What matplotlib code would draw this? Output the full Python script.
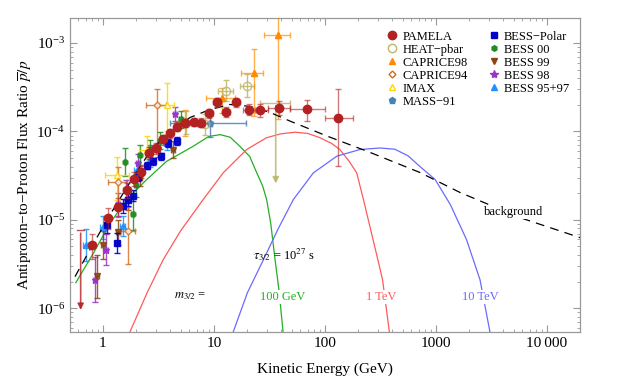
import numpy as np
import matplotlib
matplotlib.use('Agg')
import matplotlib.pyplot as plt
from matplotlib.lines import Line2D
from matplotlib.ticker import FixedLocator, FixedFormatter, LogLocator, NullFormatter

plt.rcParams['font.family'] = ['Liberation Serif', 'DejaVu Serif']
plt.rcParams['mathtext.fontset'] = 'stix'

# ---- data ----
# PAMELA
pam_E = [0.80, 1.12, 1.37, 1.64, 1.90, 2.20, 2.58, 3.02, 3.45, 4.01, 4.67, 5.53, 6.58, 7.67,
         9.07, 10.7, 12.9, 15.9, 20.5, 26.0, 38.7, 68.4, 130]
pam_r = [5.16e-6, 1.05e-5, 1.40e-5, 2.16e-5, 2.91e-5, 3.52e-5, 5.74e-5, 6.47e-5, 8.12e-5, 9.5e-5,
         1.13e-4, 1.25e-4, 1.28e-4, 1.26e-4, 1.60e-4, 2.13e-4, 1.65e-4, 2.15e-4, 1.77e-4, 1.74e-4,
         1.85e-4, 1.81e-4, 1.43e-4]
pam_rlo = [3.6e-6, 7.8e-6, 1.08e-5, 1.75e-5, 2.4e-5, 3.0e-5, 4.9e-5, 5.6e-5, 7.1e-5, 8.4e-5,
           1.0e-4, 1.12e-4, 1.14e-4, 1.12e-4, 1.42e-4, 1.9e-4, 1.45e-4, 1.9e-4, 1.52e-4, 1.45e-4,
           1.55e-4, 1.31e-4, 4.1e-5]
pam_rhi = [7.0e-6, 1.35e-5, 1.75e-5, 2.6e-5, 3.45e-5, 4.1e-5, 6.6e-5, 7.4e-5, 9.2e-5, 1.07e-4,
           1.27e-4, 1.39e-4, 1.43e-4, 1.41e-4, 1.8e-4, 2.38e-4, 1.87e-4, 2.42e-4, 2.05e-4, 2.05e-4,
           2.2e-4, 2.26e-4, 3.05e-4]
pam_Elo = [0.75, 1.05, 1.28, 1.53, 1.78, 2.05, 2.40, 2.82, 3.22, 3.74, 4.35, 5.15, 6.13, 7.15,
           8.45, 9.9, 11.9, 14.7, 18.3, 24.2, 30.8, 48.4, 100]
pam_Ehi = [0.85, 1.19, 1.46, 1.75, 2.03, 2.35, 2.76, 3.23, 3.69, 4.29, 4.99, 5.91, 7.03, 8.2,
           9.7, 11.5, 13.9, 17.1, 23.4, 30.4, 48.4, 100, 178]
pam_ul_E, pam_ul_r, pam_ul_end = 0.63, 7.6e-6, 8.9e-7

# HEAT-pbar
heat_E = [5.6, 8.3, 12.9, 20.0]
heat_r = [1.25e-4, 1.2e-4, 2.9e-4, 3.3e-4]
heat_err = [0.35, 0.3, 0.3, 0.35]
heat_ul_E, heat_ul_r, heat_ul_end = 36.0, 2.1e-4, 2.4e-5
heat_ul_Elo, heat_ul_Ehi = 26.0, 48.0

# CAPRICE98
c98_E = [5.5, 11.7, 23.0, 37.8]
c98_r = [1.3e-4, 2.4e-4, 4.6e-4, 1.22e-3]
c98_rlo = [9.0e-5, 1.6e-4, 1.5e-4, 1.4e-4]
c98_rhi = [1.75e-4, 3.1e-4, 8.5e-4, 2.5e-3]
c98_Elo = [4.8, 8.5, 17.5, 28.5]
c98_Ehi = [6.4, 15.5, 27.5, 48.5]

# CAPRICE94
c94_E = [1.37, 1.68, 3.04]
c94_r = [2.65e-5, 7.4e-6, 1.97e-4]
c94_rlo = [1.3e-5, 3.2e-6, 6.5e-5]
c94_rhi = [4.0e-5, 1.4e-5, 3.0e-4]
c94_Elo = [1.1, 1.45, 2.45]
c94_Ehi = [1.65, 1.95, 3.7]

# IMAX
imax_E = [1.33, 2.47, 3.75]
imax_r = [3.2e-5, 6.2e-5, 2.0e-4]
imax_rlo = [1.7e-5, 4.0e-5, 1.0e-4]
imax_rhi = [5.2e-5, 8.8e-5, 3.5e-4]
imax_Elo = [1.05, 2.1, 3.2]
imax_Ehi = [1.7, 2.9, 4.4]

# MASS-91
mass_E = [9.2]
mass_r = [1.25e-4]
mass_rlo = [8.6e-5]
mass_rhi = [1.5e-4]
mass_Elo = [4.0]
mass_Ehi = [19.6]

# BESS-Polar
bp_E = [1.08, 1.35, 1.52, 1.69, 1.87, 2.08, 2.47, 2.84, 3.33, 3.88, 4.61]
bp_r = [8.85e-6, 5.5e-6, 1.43e-5, 1.70e-5, 1.88e-5, 3.07e-5, 4.12e-5, 4.6e-5, 5.25e-5, 7.4e-5, 7.8e-5]
bp_err = [0.25, 0.3, 0.2, 0.18, 0.15, 0.12, 0.1, 0.1, 0.1, 0.1, 0.12]

# BESS 00
b00_E = [1.58, 1.85, 1.98, 2.15, 2.65, 3.26, 5.04]
b00_r = [4.5e-5, 1.18e-5, 2.45e-5, 5.4e-5, 6.4e-5, 7.9e-5, 1.37e-4]
b00_err = [0.45, 0.55, 0.35, 0.3, 0.25, 0.25, 0.25]

# BESS 99
b99_E = [0.88, 1.0, 1.37, 1.68, 2.15, 3.13, 4.27]
b99_r = [2.3e-6, 5.2e-6, 7.2e-6, 1.7e-5, 3.0e-5, 6.25e-5, 6.25e-5]
b99_err = [0.75, 0.45, 0.4, 0.3, 0.25, 0.2, 0.25]

# BESS 98
b98_E = [0.84, 1.06, 1.37, 1.61, 2.07, 2.65, 4.45]
b98_r = [2.1e-6, 4.6e-6, 1.5e-5, 2.2e-5, 4.4e-5, 5.9e-5, 1.56e-4]
b98_err = [0.8, 0.5, 0.35, 0.3, 0.25, 0.2, 0.2]

# BESS 95+97
b95_E = [0.70, 1.0, 1.51, 2.02, 2.65, 3.77]
b95_r = [5.2e-6, 8.2e-6, 8.6e-6, 3.7e-5, 4.8e-5, 7.5e-5]
b95_err = [0.5, 0.35, 0.3, 0.2, 0.2, 0.2]

# curves
bg_E = [0.56, 0.8, 1.16, 1.75, 2.65, 4.0, 6.1, 9.2, 13.9, 21.1, 32, 48.4, 106, 254, 718, 1645, 5710, 19800]
bg_r = [2.28e-6, 5.1e-6, 1.15e-5, 2.65e-5, 5.9e-5, 1.0e-4, 1.44e-4, 1.77e-4, 2.02e-4, 1.92e-4,
        1.64e-4, 1.31e-4, 8.8e-5, 5.8e-5, 3.43e-5, 2.04e-5, 1.06e-5, 6.3e-6]
g_E = [0.57, 0.82, 1.16, 1.64, 2.48, 3.75, 6.5, 9.0, 11.4, 14.0, 17.1, 21.0, 24.3, 27.5, 29.8,
       32.5, 35.5, 38.5, 41.9]
g_r = [1.95e-6, 4.2e-6, 9.2e-6, 1.7e-5, 2.86e-5, 4.6e-5, 6.8e-5, 8.8e-5, 9.2e-5, 8.6e-5, 6.8e-5,
       5.2e-5, 3.4e-5, 2.4e-5, 1.7e-5, 9e-6, 3.55e-6, 1.6e-6, 5.4e-7]
t_E = [1.75, 2.5, 3.49, 5.0, 8.0, 12.1, 19.7, 29.8, 40, 53.7, 70, 90, 115, 136, 165, 193, 222,
       260, 300, 330, 380]
t_r = [5.4e-7, 1.5e-6, 3.55e-6, 7.5e-6, 1.7e-5, 3.4e-5, 6.25e-5, 8.5e-5, 9.4e-5, 9.8e-5, 9.5e-5,
       8.5e-5, 7.3e-5, 6.25e-5, 4.6e-5, 3.4e-5, 1.7e-5, 7.4e-6, 3.5e-6, 2.1e-6, 5.4e-7]
tt_E = [14.9, 20, 27.9, 38, 51.9, 78.5, 128, 207, 312, 425, 560, 718, 982, 1345, 1880, 2490, 3060]
tt_r = [5.4e-7, 1.5e-6, 3.55e-6, 8e-6, 1.7e-5, 3.4e-5, 5.26e-5, 6.25e-5, 6.5e-5, 6.3e-5, 5.3e-5,
        4.0e-5, 2.86e-5, 1.49e-5, 6e-6, 2.1e-6, 5.4e-7]

xticks = [1, 10, 100, 1000, 10000]
xlabels = ['1', '10', '100', '1000', '10\u2009000']

C_PAM = '#b22222'
C_HEAT = '#bdb76b'
C_C98 = '#ff8c00'
C_C94 = '#d2691e'
C_IMAX = '#ffd700'
C_MASS = '#4682b4'
C_BP = '#0000cd'
C_B00 = '#228b22'
C_B99 = '#8b4513'
C_B98 = '#9932cc'
C_B95 = '#1e90ff'


def asym(v, lo, hi):
    v = np.array(v)
    return [v - np.array(lo), np.array(hi) - v]


def frac(v, f):
    v = np.array(v)
    f = np.array(f)
    return [v * f / (1 + f), v * f]


fig = plt.figure(figsize=(6.25, 3.91), dpi=100)
ax = fig.add_axes([0.112, 0.151, 0.816, 0.803])

# model curves
ax.plot(g_E, g_r, color='#22b022', lw=0.9, zorder=2)
ax.plot(t_E, t_r, color='#ff5a5a', lw=0.9, zorder=2)
ax.plot(tt_E, tt_r, color='#6a6aff', lw=0.9, zorder=2)

eb = dict(capsize=2, elinewidth=1.0, capthick=1.0, linestyle='none')

# data sets (low zorder first)
ax.errorbar(b95_E, b95_r, yerr=frac(b95_r, b95_err), xerr=np.array(b95_E) * 0.05, fmt='^',
            color=C_B95, ms=4, ecolor=C_B95, alpha=0.85, zorder=3, **eb)
ax.errorbar(b98_E, b98_r, yerr=frac(b98_r, b98_err), xerr=np.array(b98_E) * 0.04, fmt='*',
            color=C_B98, ms=5, ecolor=C_B98, alpha=0.85, zorder=3, **eb)
ax.errorbar(b99_E, b99_r, yerr=frac(b99_r, b99_err), xerr=np.array(b99_E) * 0.04, fmt='v',
            color=C_B99, ms=4.5, ecolor=C_B99, alpha=0.85, zorder=3, **eb)
ax.errorbar(b00_E, b00_r, yerr=frac(b00_r, b00_err), xerr=np.array(b00_E) * 0.03, fmt='h',
            color=C_B00, ms=4, ecolor=C_B00, alpha=0.85, zorder=3, **eb)
ax.errorbar(imax_E, imax_r, yerr=asym(imax_r, imax_rlo, imax_rhi), xerr=asym(imax_E, imax_Elo, imax_Ehi),
            fmt='^', mfc='white', mec=C_IMAX, color=C_IMAX, ms=5, ecolor=C_IMAX, alpha=0.85, zorder=3, **eb)
ax.errorbar(c94_E, c94_r, yerr=asym(c94_r, c94_rlo, c94_rhi), xerr=asym(c94_E, c94_Elo, c94_Ehi),
            fmt='D', mfc='white', mec=C_C94, color=C_C94, ms=3.5, ecolor=C_C94, alpha=0.8, zorder=3, **eb)
ax.errorbar(bp_E, bp_r, yerr=frac(bp_r, bp_err), xerr=np.array(bp_E) * 0.04, fmt='s',
            color=C_BP, ms=5, ecolor=C_BP, alpha=0.9, zorder=4, **eb)
ax.errorbar(mass_E, mass_r, yerr=asym(mass_r, mass_rlo, mass_rhi), xerr=asym(mass_E, mass_Elo, mass_Ehi),
            fmt='p', color=C_MASS, ms=5, ecolor=C_MASS, alpha=0.85, zorder=3, **eb)
ax.errorbar(heat_E, heat_r, yerr=frac(heat_r, heat_err), xerr=np.array(heat_E) * 0.15, fmt='o',
            mfc='none', mec=C_HEAT, color=C_HEAT, ms=6, ecolor=C_HEAT, alpha=0.85, zorder=3, **eb)
ax.errorbar([heat_ul_E], [heat_ul_r], xerr=[[heat_ul_E - heat_ul_Elo], [heat_ul_Ehi - heat_ul_E]],
            fmt='none', ecolor=C_HEAT, alpha=0.85, zorder=3, **eb)
ax.annotate('', xy=(heat_ul_E, heat_ul_end), xytext=(heat_ul_E, heat_ul_r),
            arrowprops=dict(arrowstyle='-|>', color=C_HEAT, lw=1.2, mutation_scale=9, alpha=0.85), zorder=3)
ax.errorbar(c98_E, c98_r, yerr=asym(c98_r, c98_rlo, c98_rhi), xerr=asym(c98_E, c98_Elo, c98_Ehi),
            fmt='^', color=C_C98, ms=5, ecolor=C_C98, alpha=0.7, zorder=3, **eb)
ax.plot(c98_E, c98_r, '^', color=C_C98, ms=5, zorder=4)

# background
ax.plot(bg_E, bg_r, color='black', lw=0.9, dashes=(7, 5), zorder=5)

# PAMELA
ax.errorbar(pam_E, pam_r, yerr=asym(pam_r, pam_rlo, pam_rhi), xerr=asym(pam_E, pam_Elo, pam_Ehi),
            fmt='none', ecolor=C_PAM, alpha=0.6, zorder=6, **eb)
ax.plot(pam_E, pam_r, 'o', color=C_PAM, ms=6, zorder=7)
ax.plot([pam_ul_E * 0.92, pam_ul_E * 1.08], [pam_ul_r, pam_ul_r], color=C_PAM, lw=1, alpha=0.8, zorder=6)
ax.annotate('', xy=(pam_ul_E, pam_ul_end), xytext=(pam_ul_E, pam_ul_r),
            arrowprops=dict(arrowstyle='-|>', color=C_PAM, lw=1.2, mutation_scale=9, alpha=0.8), zorder=6)

ax.set_xscale('log')
ax.set_yscale('log')
ax.set_xlim(0.505, 19800)
ax.set_ylim(5.4e-7, 1.92e-3)
ax.xaxis.set_major_locator(FixedLocator(xticks))
ax.xaxis.set_major_formatter(FixedFormatter(xlabels))
ax.xaxis.set_minor_locator(LogLocator(base=10, subs=np.arange(2, 10)))
ax.xaxis.set_minor_formatter(NullFormatter())
ax.yaxis.set_minor_locator(LogLocator(base=10, subs=np.arange(2, 10)))
ax.yaxis.set_minor_formatter(NullFormatter())

for s in ax.spines.values():
    s.set_color('#999999')
    s.set_linewidth(0.9)
ax.tick_params(which='both', direction='in', top=True, right=True, color='#999999', labelsize=11)
ax.tick_params(which='major', length=5)
ax.tick_params(which='minor', length=2.5)

ax.set_xlabel('Kinetic Energy (GeV)', fontsize=11, labelpad=9)
ax.set_ylabel('Antiproton\u2212to\u2212Proton Flux Ratio $\\overline{p}/p$', fontsize=11, labelpad=1)

# annotations
ax.text(0.42, 0.245, '$\\tau_{3/2}$ = 10$^{27}$ s', transform=ax.transAxes, fontsize=9, ha='center', va='center')
ax.text(0.235, 0.115, '$m_{3/2}$ =', transform=ax.transAxes, fontsize=9, ha='center', va='center')
ax.text(0.416, 0.111, '100 GeV', transform=ax.transAxes, fontsize=9, ha='center', va='center',
        color='#22b022', bbox=dict(facecolor='white', edgecolor='none', pad=0.5))
ax.text(0.61, 0.111, '1 TeV', transform=ax.transAxes, fontsize=9, ha='center', va='center',
        color='#ff5a5a', bbox=dict(facecolor='white', edgecolor='none', pad=0.5))
ax.text(0.804, 0.111, '10 TeV', transform=ax.transAxes, fontsize=9, ha='center', va='center',
        color='#6a6aff', bbox=dict(facecolor='white', edgecolor='none', pad=0.5))
ax.text(0.869, 0.382, 'background', transform=ax.transAxes, fontsize=9, ha='center', va='center',
        bbox=dict(facecolor='white', edgecolor='none', pad=0.5), zorder=8)

# legend
handles = [
    Line2D([], [], ls='none', marker='o', color=C_PAM, ms=6),
    Line2D([], [], ls='none', marker='o', mfc='none', mec=C_HEAT, ms=6),
    Line2D([], [], ls='none', marker='^', color=C_C98, ms=5),
    Line2D([], [], ls='none', marker='D', mfc='none', mec=C_C94, ms=3.5),
    Line2D([], [], ls='none', marker='^', mfc='none', mec=C_IMAX, ms=5),
    Line2D([], [], ls='none', marker='p', color=C_MASS, ms=5),
    Line2D([], [], ls='none', marker='s', color=C_BP, ms=5),
    Line2D([], [], ls='none', marker='h', color=C_B00, ms=4),
    Line2D([], [], ls='none', marker='v', color=C_B99, ms=5),
    Line2D([], [], ls='none', marker='*', color=C_B98, ms=6),
    Line2D([], [], ls='none', marker='^', color=C_B95, ms=5),
]
labels = ['PAMELA', 'HEAT\u2212pbar', 'CAPRICE98', 'CAPRICE94', 'IMAX', 'MASS\u221291',
          'BESS\u2212Polar', 'BESS 00', 'BESS 99', 'BESS 98', 'BESS 95+97']
ax.legend(handles, labels, ncol=2, loc='upper left', bbox_to_anchor=(0.61, 0.975), frameon=False,
          fontsize=9, handlelength=1.0, handletextpad=0.3, columnspacing=1.6, labelspacing=0.08,
          borderaxespad=0)

fig.savefig('out.png', dpi=100)
